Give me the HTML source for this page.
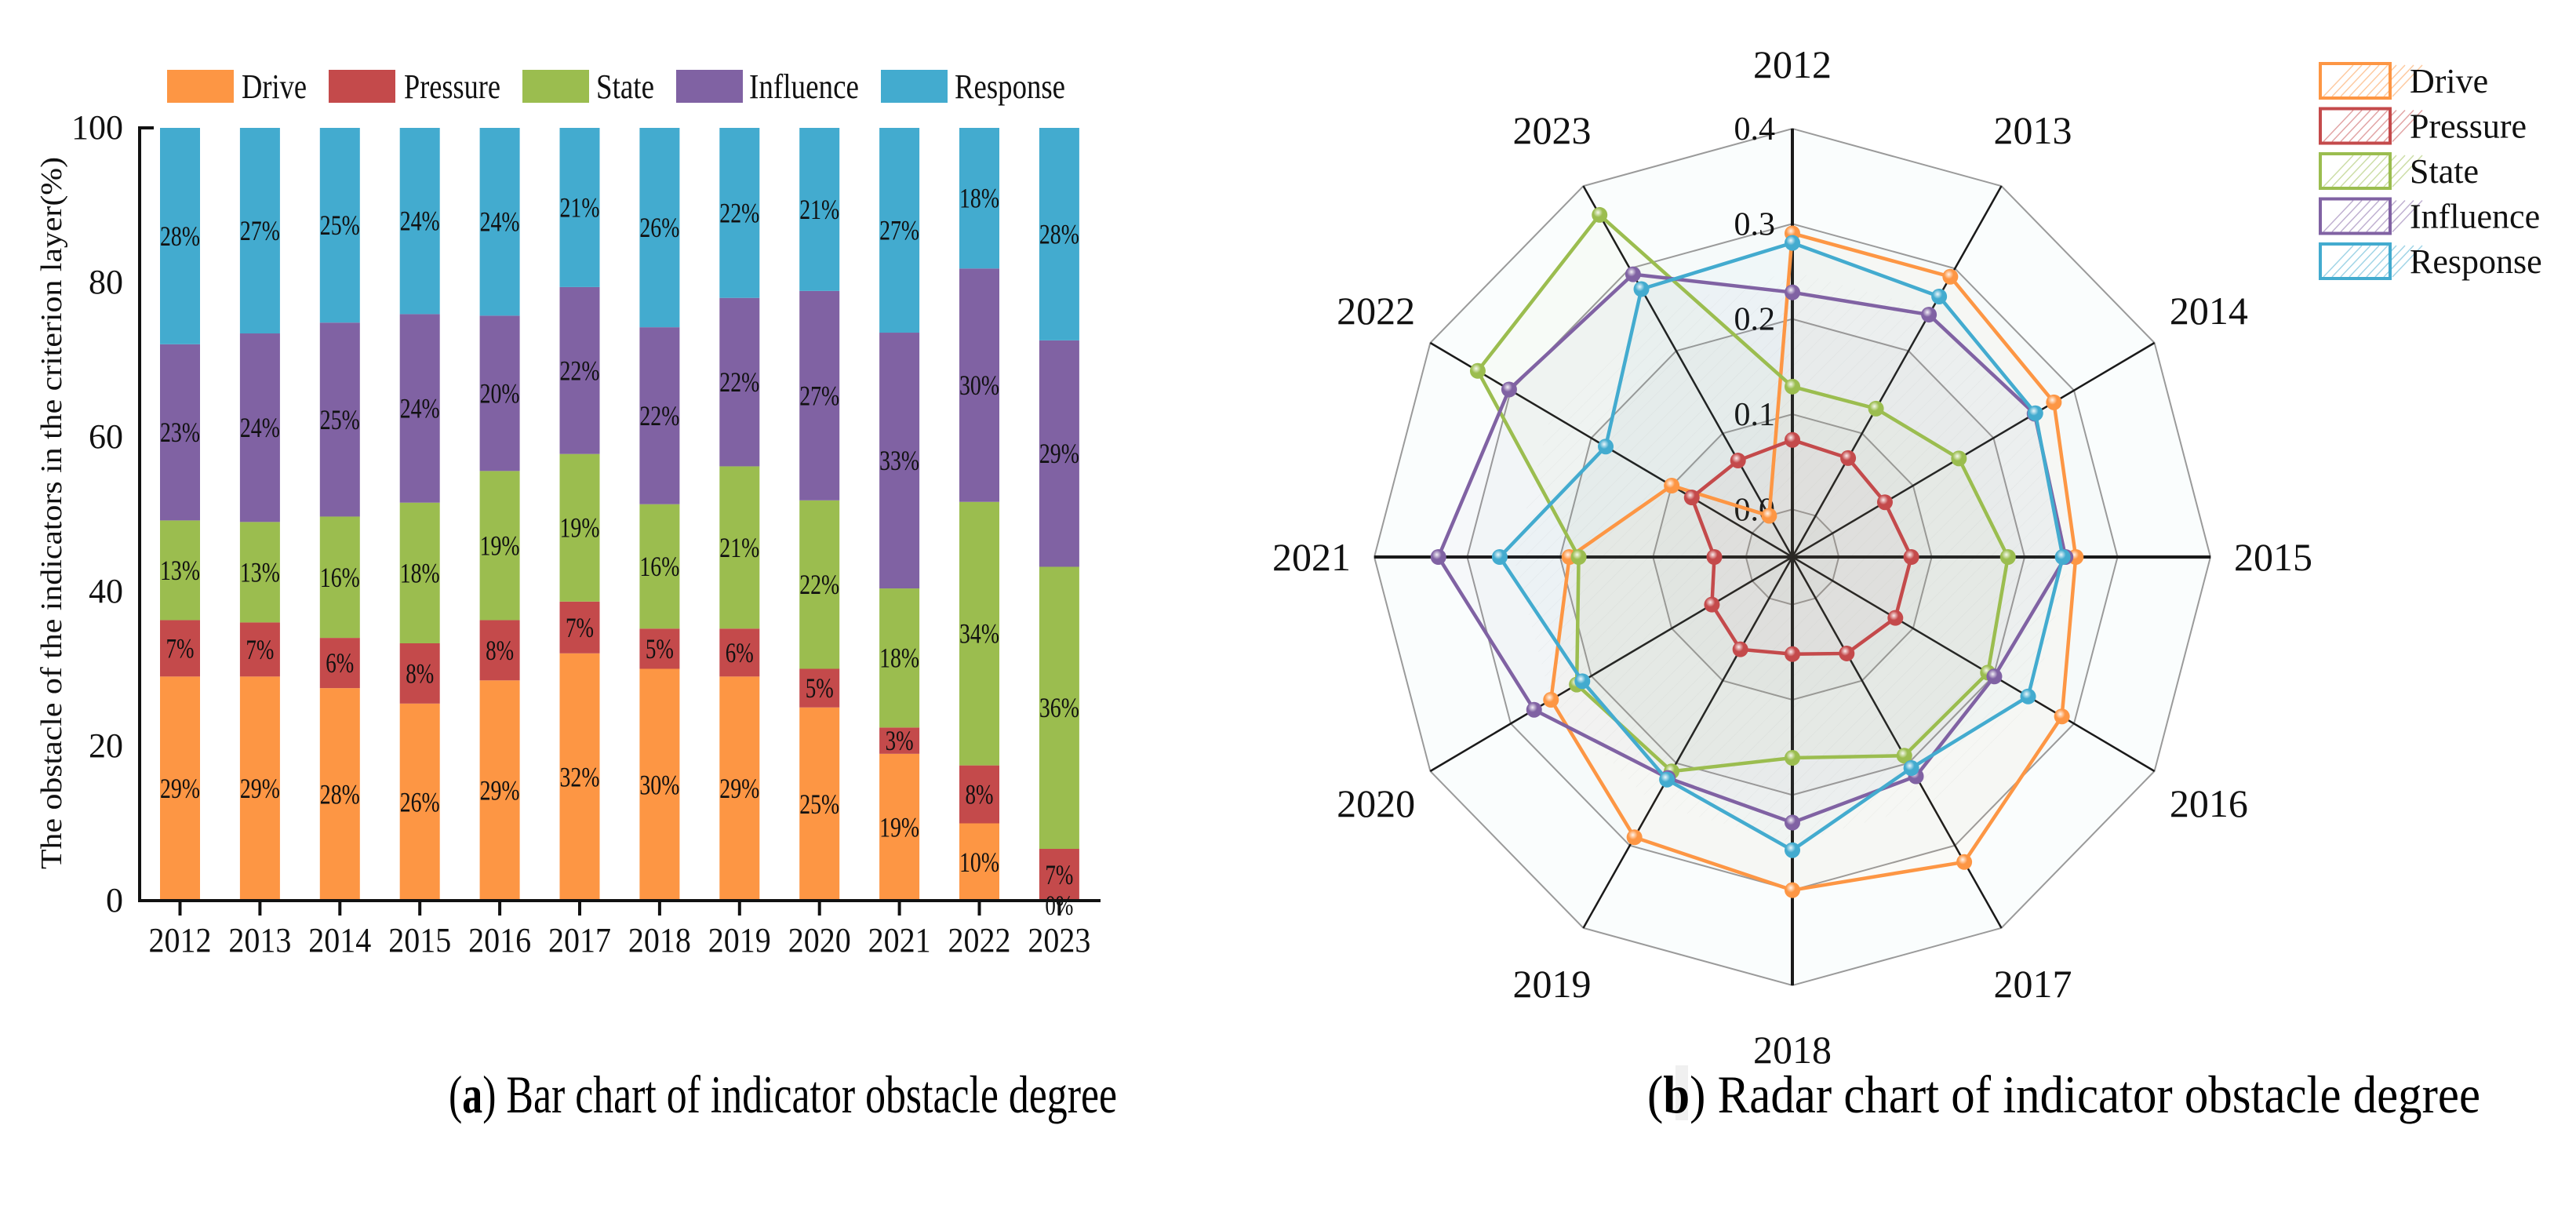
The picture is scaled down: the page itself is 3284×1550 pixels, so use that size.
<!DOCTYPE html>
<html><head><meta charset="utf-8"><style>
html,body{margin:0;padding:0;background:#fff;}
svg{display:block;font-family:"Liberation Serif",serif;}
</style></head><body>
<svg id="fig" width="3284" height="1550" viewBox="0 0 3284 1550" xmlns="http://www.w3.org/2000/svg">
<defs>
<pattern id="hatch" width="14" height="14" patternUnits="userSpaceOnUse" patternTransform="rotate(45)"><line x1="0" y1="0" x2="0" y2="14" stroke="#999" stroke-width="1" opacity="0.12"/></pattern>
<radialGradient id="ball" cx="40%" cy="35%" r="60%"><stop offset="0" stop-color="#fff" stop-opacity="0.9"/><stop offset="0.5" stop-color="#fff" stop-opacity="0"/></radialGradient>
</defs>
<g id="bar"></g>
<g id="radar"></g>
<text x="572" y="1418" font-size="68" textLength="852" lengthAdjust="spacingAndGlyphs">(<tspan font-weight="bold">a</tspan>) Bar chart of indicator obstacle degree</text>
<rect x="2136" y="1358" width="16" height="70" fill="#f0f0f0"/>
<text x="2100" y="1418" font-size="68" textLength="1062" lengthAdjust="spacingAndGlyphs">(<tspan font-weight="bold">b</tspan>) Radar chart of indicator obstacle degree</text>
</svg>
<script>
const years = ["2012","2013","2014","2015","2016","2017","2018","2019","2020","2021","2022","2023"];
const seriesNames = ["Drive","Pressure","State","Influence","Response"];
const colors = ["#fd9644","#c44a4b","#9bbd4f","#8062a3","#43abcf"];
const drive = [29,29,27.5,25.5,28.5,32,30,29,25,19,10,0];
const pressure = [7.3,7,6.5,7.8,7.8,6.7,5.2,6.2,5,3.4,7.5,6.7];
const state = [12.9,13,15.7,18.2,19.3,19.1,16.1,21,21.8,18,34.1,36.5];
const influence = [22.8,24.4,25.1,24.4,20.1,21.6,22.9,21.8,27.1,33.1,30.2,29.3];
const response = [28,26.6,25.2,24.1,24.3,20.6,25.8,22,21.1,26.5,18.2,27.5];
const driveLabels = ["29%","29%","28%","26%","29%","32%","30%","29%","25%","19%","10%","0%"];
const pressureLabels = ["7%","7%","6%","8%","8%","7%","5%","6%","5%","3%","8%","7%"];
const stateLabels = ["13%","13%","16%","18%","19%","19%","16%","21%","22%","18%","34%","36%"];
const influenceLabels = ["23%","24%","25%","24%","20%","22%","22%","22%","27%","33%","30%","29%"];
const responseLabels = ["28%","27%","25%","24%","24%","21%","26%","22%","21%","27%","18%","28%"];
const yTicks = [0,20,40,60,80,100];
const rTicks = [0.0,0.1,0.2,0.3,0.4];

const NS="http://www.w3.org/2000/svg";
function mk(parent, tag, attrs, text){
  const e=document.createElementNS(NS,tag);
  for(const k in attrs) e.setAttribute(k,attrs[k]);
  if(text!==undefined) e.textContent=text;
  parent.appendChild(e); return e;
}
const allSeries=[drive,pressure,state,influence,response];
const allLabels=[driveLabels,pressureLabels,stateLabels,influenceLabels,responseLabels];

/* ---------- Bar chart ---------- */
const bar=document.getElementById('bar');
const X0=229.5, DX=101.9, BW=51, Y0=1148, Y100=163;
const yScale=v=>Y0-(v/100)*(Y0-Y100);
const xScale=i=>X0+i*DX;
years.forEach((yr,i)=>{
  let cum=0;
  allSeries.forEach((s,k)=>{
    const v=s[i];
    const r=mk(bar,'rect',{x:xScale(i)-BW/2,y:yScale(cum+v),width:BW,height:Math.max(0,yScale(cum)-yScale(cum+v)),fill:colors[k]});
    
    
    cum+=v;
  });
});
years.forEach((yr,i)=>{
  let cum=0;
  allSeries.forEach((s,k)=>{
    const v=s[i];
    const lbl=allLabels[k][i];
    let ym=yScale(cum+v/2);
    if(v<1) ym=Y0+6;
    const t=mk(bar,'text',{x:xScale(i),y:ym+12,'font-size':36,'text-anchor':'middle',fill:'#111',textLength:lbl.length>2?51:36,lengthAdjust:'spacingAndGlyphs'},lbl);
    
    
    cum+=v;
  });
});
const ax=mk(bar,'path',{d:`M196 ${Y100} H178 V${Y0} H1403`,fill:'none',stroke:'#111','stroke-width':4});


yTicks.forEach(v=>{
  const t=mk(bar,'text',{x:157,y:yScale(v)+14,'font-size':44,'text-anchor':'end',fill:'#111'},String(v));
  
  
});
years.forEach((yr,i)=>{
  const tk=mk(bar,'line',{x1:xScale(i),x2:xScale(i),y1:Y0,y2:Y0+19,stroke:'#111','stroke-width':4});
  
  
  const t=mk(bar,'text',{x:xScale(i),y:1213,'font-size':44,'text-anchor':'middle',fill:'#111',textLength:80,lengthAdjust:'spacingAndGlyphs'},yr);
  
  
});
const yt=mk(bar,'text',{x:0,y:0,'font-size':38,'text-anchor':'middle',fill:'#111',transform:'translate(78 654) rotate(-90)',textLength:908,lengthAdjust:'spacingAndGlyphs'},'The obstacle of the indicators in the criterion layer(%)');


const legX=[213,419,666,862,1123], legTX=[308,515,760,955,1217], legTW=[83,123,74,140,141];
seriesNames.forEach((n,k)=>{
  const g=mk(bar,'g',{});
  
  
  mk(g,'rect',{x:legX[k],y:89,width:85,height:42,fill:colors[k]});
  mk(g,'text',{x:legTX[k],y:125,'font-size':44,fill:'#111',textLength:legTW[k],lengthAdjust:'spacingAndGlyphs'},n);
});

/* ---------- Radar chart ---------- */
const rad=document.getElementById('radar');
const CX=2285, CY=710, RX=533, RY=546, RMIN=-0.05, RMAX=0.4;
function pt(i,v){const a=(-90+30*i)*Math.PI/180;const r=(v-RMIN)/(RMAX-RMIN);return [CX+RX*r*Math.cos(a),CY+RY*r*Math.sin(a)];}
function poly(v){return years.map((_,i)=>pt(i,v).join(',')).join(' ');}
const bgFills=['#fafdfd','#f6fafa','#f2f6f6','#eef2f2','#eaeeee'];
[0.4,0.3,0.2,0.1,0.0].forEach((v,j)=>{
  const p=mk(rad,'polygon',{points:poly(v),fill:bgFills[j],stroke:'#9a9a9a','stroke-width':2});
  
  
});
mk(rad,'polygon',{points:poly(0.25),fill:'url(#hatch)'});
years.forEach((yr,i)=>{
  const [x,y]=pt(i,0.4);
  const l=mk(rad,'line',{x1:CX,y1:CY,x2:x,y2:y,stroke:'#1a1a1a','stroke-width':i%3===0?4:2.5});
  
  
  const a=(-90+30*i)*Math.PI/180;
  const t=mk(rad,'text',{x:CX+RX*1.15*Math.cos(a),y:CY+RY*1.15*Math.sin(a)+17,'font-size':50,'text-anchor':'middle',fill:'#111',textLength:100,lengthAdjust:'spacingAndGlyphs'},yr);
  
  
});
rTicks.forEach(v=>{
  const [x,y]=pt(0,v);
  const t=mk(rad,'text',{x:2263,y:y+14,'font-size':42,'text-anchor':'end',fill:'#111'},v.toFixed(1));
  
  
});
allSeries.forEach((s,k)=>{
  const pts=s.map((v,i)=>pt(i,v/100).join(',')).join(' ');
  const f=mk(rad,'polygon',{points:pts,fill:colors[k],'fill-opacity':0.03,stroke:'none'});
  
  
});
allSeries.forEach((s,k)=>{
  const pts=s.map((v,i)=>pt(i,v/100).join(',')).join(' ');
  const l=mk(rad,'polygon',{points:pts,fill:'none',stroke:colors[k],'stroke-width':4.5});
  
  
  s.forEach((v,i)=>{
    const [x,y]=pt(i,v/100);
    const c=mk(rad,'circle',{cx:x,cy:y,r:10,fill:colors[k]});
    
    
    mk(rad,'circle',{cx:x,cy:y,r:10,fill:'url(#ball)'});
  });
});
seriesNames.forEach((n,k)=>{
  const y0=79+k*57.5;
  const g=mk(rad,'g',{});
  
  
  mk(g,'rect',{x:2958,y:y0+2,width:89,height:44,fill:'#fff',stroke:colors[k],'stroke-width':4});
  for(let j=0;j<9;j++){
    const x1=2962+j*11;
    mk(g,'line',{x1:x1,y1:y0+44,x2:x1+38,y2:y0+4,stroke:colors[k],'stroke-width':1.5,opacity:0.5});
  }
  mk(g,'text',{x:3072,y:y0+39,'font-size':44,fill:'#111'},n);
});
</script>
</body></html>
